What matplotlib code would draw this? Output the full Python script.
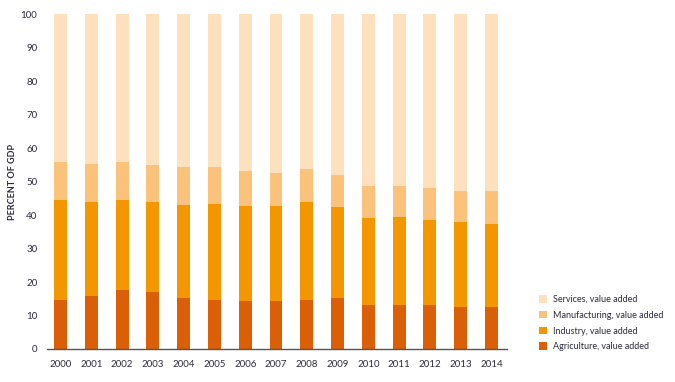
import matplotlib
matplotlib.use('Agg')
import numpy as np
import matplotlib.pyplot as plt

plt.rcParams['font.family'] = ['Lato', 'DejaVu Sans']

years = [str(y) for y in range(2000, 2015)]

# stacked shares, percent of GDP
agriculture = [14.6, 15.8, 17.6, 17.0, 15.2, 14.6, 14.3, 14.3, 14.6, 15.2, 13.1, 13.1, 13.1, 12.5, 12.5]
industry_top = [44.5, 43.9, 44.5, 43.9, 43.0, 43.3, 42.7, 42.7, 43.9, 42.4, 39.1, 39.4, 38.5, 37.9, 37.3]
manufacturing_top = [55.8, 55.2, 55.8, 54.9, 54.3, 54.3, 53.1, 52.5, 53.7, 51.9, 48.7, 48.7, 48.1, 47.2, 47.2]

agriculture = np.array(agriculture)
industry = np.array(industry_top) - agriculture
manufacturing = np.array(manufacturing_top) - np.array(industry_top)
services = 100 - np.array(manufacturing_top)

labels = ['Agriculture, value added', 'Industry, value added',
          'Manufacturing, value added', 'Services, value added']
colors = ['#DA5F07', '#F39600', '#FAC27A', '#FDE0BE']
text_color = '#2B2B3B'

fig = plt.figure(figsize=(6.75, 3.82), dpi=100)
ax = fig.add_axes([0.0696, 0.0864, 0.6814, 0.8766])

x = np.arange(len(years))
width = 0.42
bottom = np.zeros(len(years))
handles = []
for vals, col, lab in zip([agriculture, industry, manufacturing, services], colors, labels):
    b = ax.bar(x, vals, width, bottom=bottom, color=col, label=lab, linewidth=0)
    handles.append(b)
    bottom = bottom + vals

ax.set_xlim(-0.44, 14.5)
ax.set_ylim(0, 100)
ax.set_yticks(range(0, 101, 10))
ax.set_xticks(x)
ax.set_xticklabels(years)

for s in ['top', 'right', 'left']:
    ax.spines[s].set_visible(False)
ax.spines['bottom'].set_color('#555555')
ax.spines['bottom'].set_linewidth(1.0)

ax.tick_params(axis='both', length=0, labelsize=7, colors=text_color)
ax.tick_params(axis='y', pad=7)
ax.tick_params(axis='x', pad=8)

ax.set_ylabel('PERCENT OF GDP', fontsize=6.5, fontweight='bold', color=text_color)
ax.yaxis.set_label_coords(-0.065, 0.5)

leg = fig.legend(handles[::-1], labels[::-1], loc='center left', bbox_to_anchor=(0.792, 0.154),
                 frameon=False, fontsize=6.5, handlelength=0.9, handleheight=0.9,
                 handletextpad=0.6, labelspacing=0.75, borderpad=0)
for t in leg.get_texts():
    t.set_color(text_color)

plt.savefig('out.png', dpi=100)
plt.close()
